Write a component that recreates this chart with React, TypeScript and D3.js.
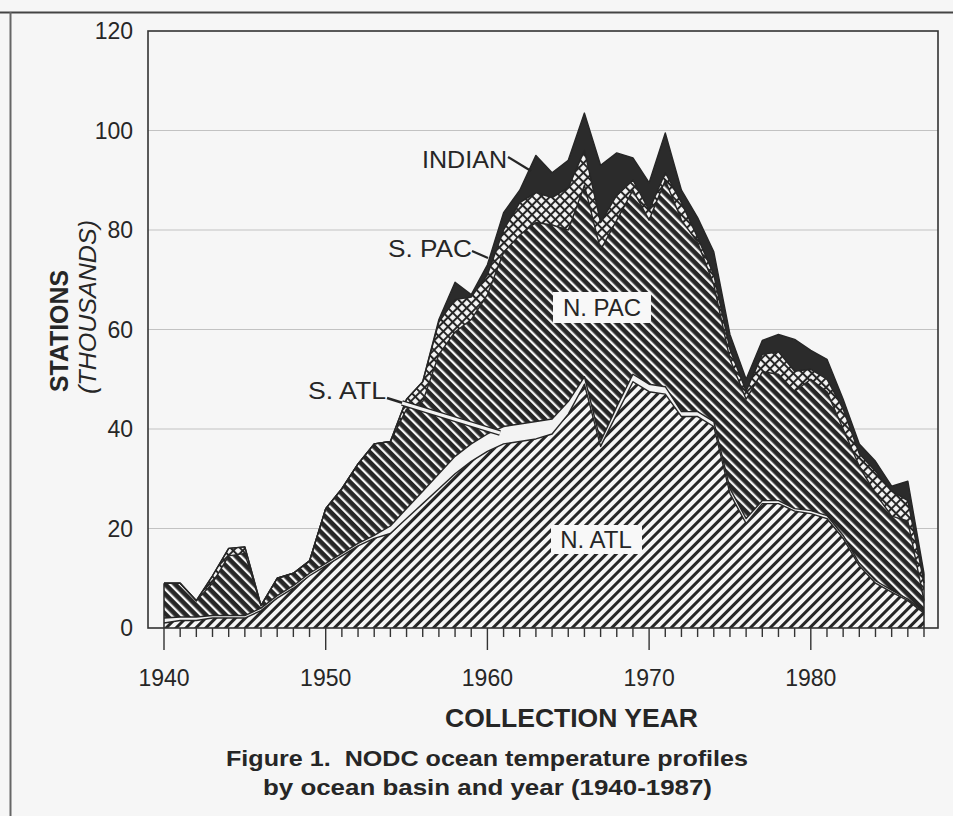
import React from 'react';
import * as d3 from 'd3';

// ---- data (thousands of stations) ----
const years = [1940,1941,1942,1943,1944,1945,1946,1947,1948,1949,1950,1951,1952,1953,1954,1955,1956,1957,1958,1959,1960,1961,1962,1963,1964,1965,1966,1967,1968,1969,1970,1971,1972,1973,1974,1975,1976,1977,1978,1979,1980,1981,1982,1983,1984,1985,1986,1987];
const nAtl = [1,1.5,1.5,2,2,2,3.5,6,8,10.5,12.5,14.5,16.5,18,19,22,25,28,31,33.5,35.5,37,37.5,38,39,43,49,36.5,43,49.5,47.5,47,42.5,42.5,40.5,27,21,25,25,23.5,23,22,18,12.5,9,7.2,5.5,3];
const sAtl = [1,0.7,0.7,0.5,0.5,0.5,0.5,0.5,0.5,0.5,0.5,0.5,0.5,0.6,1.5,2,2.5,3,3.5,3.5,3.5,3.5,3.5,3.5,3,2.5,1.5,1,1.5,1.5,1.5,1.5,1,1,1,1,1,0.6,0.6,0.5,0.6,0.6,0.6,0.5,0.5,0.4,0.3,0.3];
const nPac = [7,6.8,3.3,6.5,12,12.5,0.5,3.5,2.5,2.5,11,13,16,18.4,17,20,18,24,25,25,28,35,38,40,39,34.5,38.5,38.5,37.5,37,33,41.5,38.5,34,27.5,26,24,25.9,25.4,23.6,26.4,24.9,21.4,19.5,17.5,14.9,15.7,2.2];
const sPac = [0,0,0,1.5,1.5,1.3,0,0,0,0,0,0,0,0,0,2,4,6.5,6.5,4.5,4,4.5,6.5,6,5.5,8.5,7,5.5,5,2,2,1.5,3.5,1,2,2,1.6,3.5,4.5,4,2,2.5,4,2.5,4.5,5,4.1,3.5];
const indian = [0,0,0,0,0,0,0,0,0,0,0,0,0,0,0,0,0,0.5,3.5,0.5,2,3.5,2.5,7.5,5,5.5,7.5,11.5,8.5,4.5,5.5,8,2.5,4,4.6,3,2.4,2.8,3.5,6.4,3.8,4,2,2,2,1,3.9,2];

const keys = ['nAtl', 'sAtl', 'nPac', 'sPac', 'indian'];
const yTicks = [0, 20, 40, 60, 80, 100, 120];
const gridTicks = [20, 40, 60, 80, 100];
const xLabelYears = [1940, 1950, 1960, 1970, 1980];

const W = 953, H = 816;
const INK = '#262626';
const PAPER = '#f6f6f6';
const FONT = '"Liberation Sans", Arial, Helvetica, sans-serif';

export default function App() {
  const x = d3.scaleLinear().domain([1940, 1987]).range([164, 924]);
  const y = d3.scaleLinear().domain([0, 120]).range([628, 31]);

  const rows = years.map((yr, i) => ({
    year: yr, nAtl: nAtl[i], sAtl: sAtl[i], nPac: nPac[i], sPac: sPac[i], indian: indian[i],
  }));
  const series = d3.stack<any>().keys(keys)(rows);

  const area = d3.area<any>()
    .x((d: any) => x(d.data.year))
    .y0((d: any) => y(d[0]))
    .y1((d: any) => y(d[1]));
  const topLine = d3.line<any>()
    .x((d: any) => x(d.data.year))
    .y((d: any) => y(d[1]));
  const fills = ['url(#pNAtl)', '#f3f3f3', 'url(#pNPac)', 'url(#pSPac)', '#2b2b2b'];

  const totalSeries = series[series.length - 1];

  return (
    <svg width={W} height={H} style={{ position: 'absolute', left: 0, top: 0 }} fontFamily={FONT}>
      <defs>
        <pattern id="pNAtl" patternUnits="userSpaceOnUse" width={7} height={7} patternTransform="rotate(45)">
          <rect width={7} height={7} fill={PAPER} />
          <rect x={0} y={0} width={3} height={7} fill={INK} />
        </pattern>
        <pattern id="pNPac" patternUnits="userSpaceOnUse" width={7} height={7} patternTransform="rotate(-45)">
          <rect width={7} height={7} fill={INK} />
          <rect x={0} y={0} width={2.3} height={7} fill={PAPER} />
        </pattern>
        <pattern id="pSPac" patternUnits="userSpaceOnUse" width={6.6} height={6.6} patternTransform="rotate(45)">
          <rect width={6.6} height={6.6} fill={INK} />
          <rect x={1} y={1} width={4.6} height={4.6} fill={PAPER} />
        </pattern>
      </defs>

      <rect x={0} y={0} width={W} height={H} fill={PAPER} />
      {/* page rules */}
      <line x1={0} x2={W} y1={12.5} y2={12.5} stroke="#444" strokeWidth={2} />
      <line x1={10.5} x2={10.5} y1={12} y2={H} stroke="#666" strokeWidth={2} />

      {/* faint gridlines */}
      {gridTicks.map(t => (
        <line key={t} x1={148} x2={938} y1={y(t)} y2={y(t)} stroke="#c2c2c2" strokeWidth={1.2} />
      ))}

      {/* stacked areas */}
      {series.map((s, i) => (
        <path key={keys[i]} d={area(s as any) || ''} fill={fills[i]} />
      ))}
      {series.map((s, i) => (
        <path key={'l' + keys[i]} d={topLine(s as any) || ''} fill="none" stroke={INK} strokeWidth={1.4} strokeLinejoin="round" />
      ))}
      {/* left & right edges of the stack */}
      <line x1={x(1940)} x2={x(1940)} y1={y(0)} y2={y(totalSeries[0][1])} stroke={INK} strokeWidth={1.5} />
      <line x1={x(1987)} x2={x(1987)} y1={y(0)} y2={y(totalSeries[totalSeries.length - 1][1])} stroke={INK} strokeWidth={1.5} />

      {/* plot frame */}
      <rect x={148} y={31} width={790} height={597} fill="none" stroke="#333" strokeWidth={1.6} />

      {/* x ticks */}
      {years.map(yr => (
        <line key={yr} x1={x(yr)} x2={x(yr)} y1={628} y2={yr % 10 === 0 ? 650 : 637} stroke="#333" strokeWidth={1.4} />
      ))}
      {xLabelYears.map(yr => (
        <text key={yr} x={x(yr)} y={686} textAnchor="middle" fontSize={23} fill={INK}>{yr}</text>
      ))}
      {yTicks.map(t => (
        <text key={t} x={133} y={y(t)} dy="0.36em" textAnchor="end" fontSize={23} fill={INK}>{t}</text>
      ))}

      {/* axis titles */}
      <text transform="translate(68,392) rotate(-90)" fontSize={25} fontWeight="bold" fill={INK} textLength={122} lengthAdjust="spacingAndGlyphs">STATIONS</text>
      <text transform="translate(96,394) rotate(-90)" fontSize={24} fontStyle="italic" fill={INK} textLength={174} lengthAdjust="spacingAndGlyphs">(THOUSANDS)</text>
      <text x={445} y={727} fontSize={25} fontWeight="bold" fill={INK} textLength={253} lengthAdjust="spacingAndGlyphs">COLLECTION YEAR</text>

      {/* caption */}
      <text x={226} y={766} fontSize={22} fontWeight="bold" fill={INK} textLength={522} lengthAdjust="spacingAndGlyphs" style={{ whiteSpace: 'pre' }}>{'Figure 1.  NODC ocean temperature profiles'}</text>
      <text x={263} y={795} fontSize={22} fontWeight="bold" fill={INK} textLength={449} lengthAdjust="spacingAndGlyphs">by ocean basin and year (1940-1987)</text>

      {/* series labels */}
      <text x={422} y={168} fontSize={24} fill={INK} textLength={85} lengthAdjust="spacingAndGlyphs">INDIAN</text>
      <line x1={508} y1={157} x2={531} y2={171} stroke={INK} strokeWidth={2.2} />
      <text x={388} y={257} fontSize={24} fill={INK} textLength={84} lengthAdjust="spacingAndGlyphs">S. PAC</text>
      <line x1={472} y1={251} x2={488} y2={258} stroke={INK} strokeWidth={2.2} />

      <text x={308} y={399} fontSize={24} fill={INK} textLength={78} lengthAdjust="spacingAndGlyphs">S. ATL</text>
      <line x1={387} y1={398} x2={403} y2={403} stroke={INK} strokeWidth={2.4} />
      <line x1={402} y1={403} x2={500} y2={433} stroke={INK} strokeWidth={6} strokeLinecap="butt" />
      <line x1={402} y1={403} x2={500} y2={433} stroke="#f3f3f3" strokeWidth={3} strokeLinecap="butt" />

      <rect x={553} y={292} width={98} height={31} fill="#f8f8f8" />
      <text x={602} y={316} textAnchor="middle" fontSize={24} fill={INK}>N. PAC</text>
      <rect x={551} y={525} width={91} height={29} fill="#f8f8f8" />
      <text x={596} y={548} textAnchor="middle" fontSize={24} fill={INK}>N. ATL</text>
    </svg>
  );
}
